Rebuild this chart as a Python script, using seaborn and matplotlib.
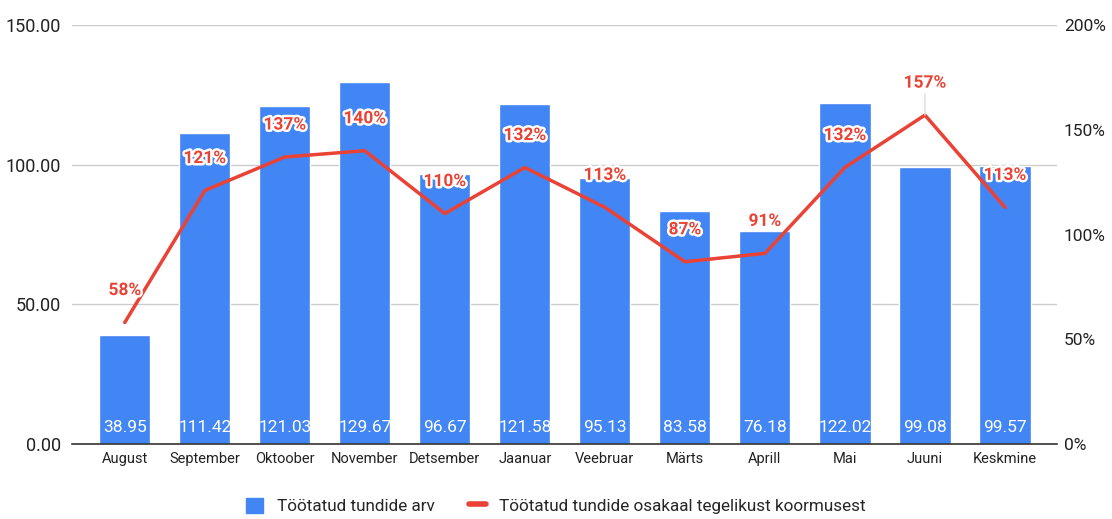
import matplotlib
matplotlib.use("Agg")
import matplotlib.pyplot as plt
import matplotlib.patheffects as pe
from matplotlib.patches import Patch
from matplotlib.lines import Line2D
import seaborn as sns
import pandas as pd

months = ["August", "September", "Oktoober", "November", "Detsember", "Jaanuar",
          "Veebruar", "Märts", "Aprill", "Mai", "Juuni", "Keskmine"]
hours = [38.95, 111.42, 121.03, 129.67, 96.67, 121.58, 95.13, 83.58, 76.18, 122.02, 99.08, 99.57]
share_pct = [58, 121, 137, 140, 110, 132, 113, 87, 91, 132, 157, 113]

bar_label = "Töötatud tundide arv"
line_label = "Töötatud tundide osakaal tegelikust koormusest"

BLUE = "#4285F4"
RED = "#EA4335"

sns.set_style("white")
plt.rcParams["font.family"] = ["Roboto", "DejaVu Sans"]

df = pd.DataFrame({"month": months, "hours": hours, "share": share_pct})

fig = plt.figure(figsize=(11.12, 5.19), dpi=100)
ax = fig.add_axes([0.0647, 0.1445, 0.8858, 0.8073])

sns.barplot(data=df, x="month", y="hours", color=BLUE, saturation=1, width=0.64, ax=ax)
ax.set_ylim(0, 150)
ax.set_yticks([0, 50, 100, 150])
ax.set_yticklabels([f"{v:.2f}" for v in [0, 50, 100, 150]], fontsize=13, color="#222222")
ax.set_xlim(-0.66, len(months) - 0.35)
ax.grid(axis="y", color="#cccccc", linewidth=1)
ax.set_axisbelow(True)
ax.set_xlabel("")
ax.set_ylabel("")
for s in ["top", "right", "left"]:
    ax.spines[s].set_visible(False)
ax.spines["bottom"].set_color("#333333")
ax.spines["bottom"].set_linewidth(1.2)
ax.tick_params(axis="x", labelsize=10.5, colors="#222222", length=0, pad=6)
ax.tick_params(axis="y", length=0, pad=8)

for i, v in enumerate(hours):
    ax.text(i, 6, f"{v:.2f}", ha="center", va="center", color="white", fontsize=12.5)

ax2 = ax.twinx()
sns.lineplot(x=list(range(len(months))), y=share_pct, color=RED, linewidth=2.5, ax=ax2)
ax2.set_ylim(0, 200)
ax2.set_yticks([0, 50, 100, 150, 200])
ax2.set_yticklabels([f"{v}%" for v in [0, 50, 100, 150, 200]], fontsize=12.5, color="#222222")
ax2.tick_params(axis="y", length=0, pad=5)
for s in ["top", "right", "left", "bottom"]:
    ax2.spines[s].set_visible(False)
ax2.set_xlim(ax.get_xlim())

for i, p in enumerate(share_pct):
    # Google Sheets draws a leader for the label that sits outside the bars
    arrow = dict(arrowstyle="-", color="#dddddd", lw=1, shrinkA=0, shrinkB=0) if i == 10 else None
    ax2.annotate(f"{p}%", (i, p), xytext=(0, 23), textcoords="offset points",
                 ha="center", va="center", color=RED, fontsize=12.5, fontweight="bold",
                 arrowprops=arrow,
                 path_effects=[pe.withStroke(linewidth=3.5, foreground="white")])

handles = [Patch(color=BLUE), Line2D([0], [0], color=RED, linewidth=4)]
fig.legend(handles, [bar_label, line_label], loc="lower center", ncol=2,
           bbox_to_anchor=(0.5, -0.02), frameon=False, fontsize=12.3,
           handlelength=1.0, handleheight=1.0, columnspacing=2.0)

fig.savefig("out.png", dpi=100)
